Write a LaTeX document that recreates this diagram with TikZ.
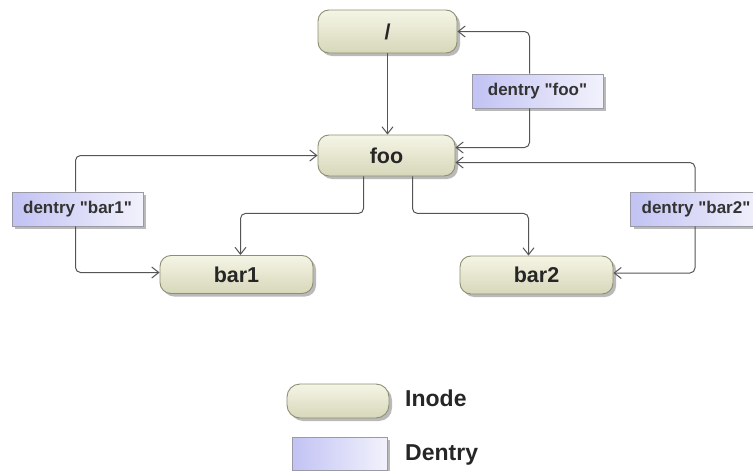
\documentclass[tikz,border=0pt]{standalone}
\usepackage{fontspec}
% a family without TeX ligature mapping, so " stays a straight quote
\newfontfamily\labelfont{Liberation Sans}
\usetikzlibrary{arrows.meta,shadows}
\definecolor{inodeA}{HTML}{F5F5E6}
\definecolor{inodeB}{HTML}{D7D7BA}
\definecolor{inodeLine}{HTML}{8E8E74}
\definecolor{dentA}{HTML}{C2C2F4}
\definecolor{dentB}{HTML}{F2F2FC}
\definecolor{dentLine}{HTML}{9A9AA6}
\definecolor{wire}{HTML}{555555}
\begin{document}
\begin{tikzpicture}[x=1pt,y=-1pt,
  boxshadow/.style={drop shadow={shadow xshift=3pt,shadow yshift=-3pt,fill=black!45,opacity=0.6}},
  inode/.style={draw=inodeLine,line width=0.9pt,rounded corners=11pt,
    top color=inodeA,bottom color=inodeB,boxshadow,inner sep=0pt,
    font=\labelfont\fontsize{21.5}{24}\selectfont\bfseries,text=black!85},
  dentry/.style={draw=dentLine,line width=0.9pt,left color=dentA,right color=dentB,
    boxshadow,inner sep=0pt,minimum width=131pt,minimum height=34pt,
    font=\labelfont\fontsize{17}{20}\selectfont\bfseries,text=black!80},
  conn/.style={draw=wire,line width=1pt,rounded corners=5pt,
    -{Straight Barb[length=7pt,width=11pt]}},
  legtext/.style={anchor=west,inner sep=0pt,
    font=\labelfont\fontsize{23}{26}\selectfont\bfseries,text=black!85}
]
\useasboundingbox (0,0) rectangle (753,471);

% inodes
\node[inode,minimum width=139pt,minimum height=43pt] (root) at (387.5,31.5) {/};
\node[inode,minimum width=137pt,minimum height=41pt] (foo) at (386.5,155.5) {foo};
\node[inode,minimum width=153pt,minimum height=38pt] (bar1) at (236.5,274.5) {bar1};
\node[inode,minimum width=153pt,minimum height=38pt] (bar2) at (536.5,275) {bar2};

% dentries
\node[dentry] (dfoo) at (537.5,91) {dentry "foo"};
\node[dentry] (dbar1) at (77.5,209) {dentry "bar1"};
\node[dentry] (dbar2) at (696,209) {dentry "bar2"};

% parent to child links
\draw[conn] (root.south) -- (root.south |- foo.north);
\draw[conn] ([xshift=-23pt]foo.south) -- ++(0,37) -| ([xshift=4pt]bar1.north);
\draw[conn] ([xshift=26pt]foo.south) -- ++(0,37) -| ([xshift=-8pt]bar2.north);

% dentry links
\draw[conn] ([xshift=-8pt]dfoo.north) |- (root.east);
\draw[conn] ([xshift=-8pt]dfoo.south) |- ([yshift=8pt]foo.east);
\draw[conn] ([xshift=-1pt]dbar2.north) |- ([yshift=-7pt]foo.east);
\draw[conn] ([xshift=-1pt]dbar2.south) |- ([yshift=2pt]bar2.east);
\draw[conn] ([xshift=-2pt]dbar1.north) |- (foo.west);
\draw[conn] ([xshift=-2pt]dbar1.south) |- ([yshift=2pt]bar1.west);

% legend
\node[inode,rounded corners=13pt,minimum width=102pt,minimum height=34pt] (legI) at (338,401) {};
\node[legtext] (legIt) at (405,398) {Inode};
\node[dentry,minimum width=95pt,minimum height=33pt] (legD) at (339.5,453.5) {};
\node[legtext] (legDt) at (405,455) {Dentry};
\end{tikzpicture}
\end{document}
